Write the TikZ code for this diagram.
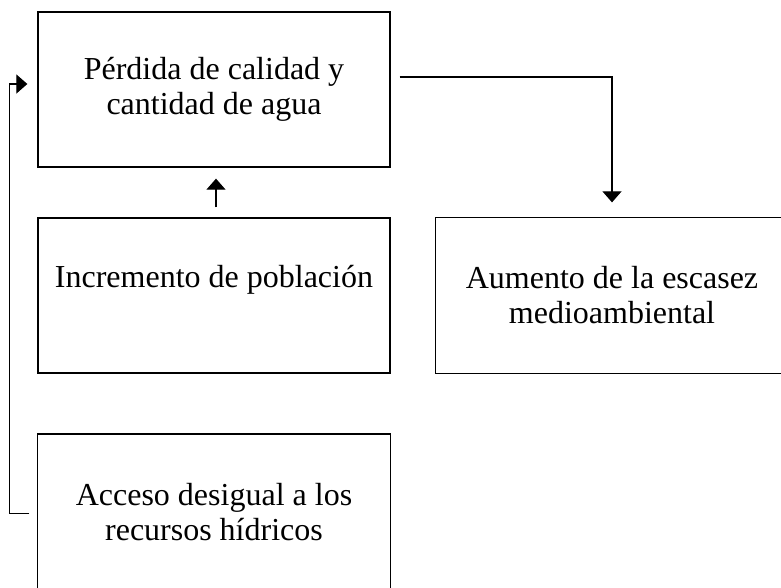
\documentclass[tikz,border=0pt]{standalone}
\usepackage{fontspec}
\setmainfont{Liberation Serif}
\usetikzlibrary{arrows.meta}

\begin{document}
\begin{tikzpicture}[
        x=1pt, y=-1pt,
        caja/.style={draw, line width=1.3pt, minimum width=352pt, minimum height=155pt,
            align=center, inner sep=0pt, font=\fontsize{32}{35}\selectfont},
        abierta/.style={caja, draw=none},
        borde/.style={line width=1.3pt},
        flecha/.style={line width=1.2pt, -{Triangle[width=19pt,length=11pt]}}
    ]
        \useasboundingbox (0,0) rectangle (781,587);
        \node[caja] (P)  at (214, 89.5)  {Pérdida de calidad y\\cantidad de agua};
        \node[caja, text height=0pt, text depth=17pt] (I) at (214, 295.5) {Incremento de población};
        \node[abierta] (AD) at (214, 512) {Acceso desigual a los\\recursos hídricos};
        \node[abierta] (AE) at (612, 295.5) {Aumento de la escasez\\medioambiental};
        % cajas cortadas por el borde
        \draw[borde] (AD.south west) ++(0,20) -- (AD.north west) -- (AD.north east) -- ++(0,175);
        \draw[borde] (AE.north west) ++(370,0) -- (AE.north west) -- (AE.south west) -- ++(370,0);
        \draw[flecha] ([xshift=2pt, yshift=10pt]I.north) -- ([xshift=2pt, yshift=-11pt]P.south);
        \draw[flecha] ([xshift=9pt, yshift=12.5pt]P.east) -| ([yshift=15pt]AE.north);
        \draw[flecha] ([xshift=-8pt, yshift=-1.5pt]AD.west) -- ++(-20,0) |- ([xshift=-10pt, yshift=5.5pt]P.west);
    \end{tikzpicture}
\end{document}
